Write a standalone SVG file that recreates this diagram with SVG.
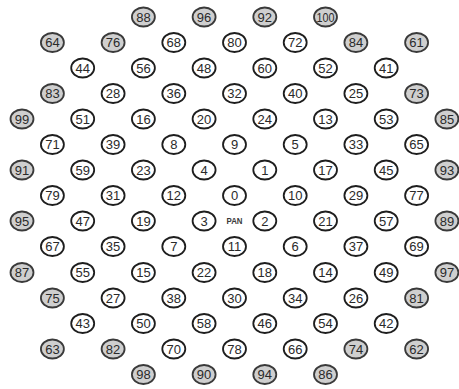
<svg xmlns="http://www.w3.org/2000/svg" width="459" height="389" viewBox="0 0 459 389">
<style>
ellipse{fill:#fff;stroke:#1e1e1e;stroke-width:1.8}
.d ellipse{fill:#cfcfcf;stroke:#3a3a3a}
text{font-family:"Liberation Sans",Arial,sans-serif;font-size:13px;fill:#2a2a2a;text-anchor:middle}
.pan{font-size:8.5px;font-weight:bold;fill:#3a3a3a}
</style>
<rect width="459" height="389" fill="#fff"/>
<g id="nodes">
<!-- row 0 -->
<g id="n88" class="d" transform="translate(143.4,17)"><ellipse rx="11.5" ry="9.5"/><text y="4.6">88</text></g>
<g id="n96" class="d" transform="translate(204.1,17)"><ellipse rx="11.5" ry="9.5"/><text y="4.6">96</text></g>
<g id="n92" class="d" transform="translate(264.8,17)"><ellipse rx="11.5" ry="9.5"/><text y="4.6">92</text></g>
<g id="n100" class="d" transform="translate(325.5,17)"><ellipse rx="11.5" ry="9.5"/><text y="4.6" textLength="18" lengthAdjust="spacingAndGlyphs">100</text></g>
<!-- row 1 -->
<g id="n64" class="d" transform="translate(52.4,42.5)"><ellipse rx="11.5" ry="9.5"/><text y="4.6">64</text></g>
<g id="n76" class="d" transform="translate(113.1,42.5)"><ellipse rx="11.5" ry="9.5"/><text y="4.6">76</text></g>
<g id="n68" transform="translate(173.8,42.5)"><ellipse rx="11.5" ry="9.5"/><text y="4.6">68</text></g>
<g id="n80" transform="translate(234.5,42.5)"><ellipse rx="11.5" ry="9.5"/><text y="4.6">80</text></g>
<g id="n72" transform="translate(295.2,42.5)"><ellipse rx="11.5" ry="9.5"/><text y="4.6">72</text></g>
<g id="n84" class="d" transform="translate(355.9,42.5)"><ellipse rx="11.5" ry="9.5"/><text y="4.6">84</text></g>
<g id="n61" class="d" transform="translate(416.6,42.5)"><ellipse rx="11.5" ry="9.5"/><text y="4.6">61</text></g>
<!-- row 2 -->
<g id="n44" transform="translate(82.7,68)"><ellipse rx="11.5" ry="9.5"/><text y="4.6">44</text></g>
<g id="n56" transform="translate(143.4,68)"><ellipse rx="11.5" ry="9.5"/><text y="4.6">56</text></g>
<g id="n48" transform="translate(204.1,68)"><ellipse rx="11.5" ry="9.5"/><text y="4.6">48</text></g>
<g id="n60" transform="translate(264.8,68)"><ellipse rx="11.5" ry="9.5"/><text y="4.6">60</text></g>
<g id="n52" transform="translate(325.5,68)"><ellipse rx="11.5" ry="9.5"/><text y="4.6">52</text></g>
<g id="n41" transform="translate(386.2,68)"><ellipse rx="11.5" ry="9.5"/><text y="4.6">41</text></g>
<!-- row 3 -->
<g id="n83" class="d" transform="translate(52.4,93.5)"><ellipse rx="11.5" ry="9.5"/><text y="4.6">83</text></g>
<g id="n28" transform="translate(113.1,93.5)"><ellipse rx="11.5" ry="9.5"/><text y="4.6">28</text></g>
<g id="n36" transform="translate(173.8,93.5)"><ellipse rx="11.5" ry="9.5"/><text y="4.6">36</text></g>
<g id="n32" transform="translate(234.5,93.5)"><ellipse rx="11.5" ry="9.5"/><text y="4.6">32</text></g>
<g id="n40" transform="translate(295.2,93.5)"><ellipse rx="11.5" ry="9.5"/><text y="4.6">40</text></g>
<g id="n25" transform="translate(355.9,93.5)"><ellipse rx="11.5" ry="9.5"/><text y="4.6">25</text></g>
<g id="n73" class="d" transform="translate(416.6,93.5)"><ellipse rx="11.5" ry="9.5"/><text y="4.6">73</text></g>
<!-- row 4 -->
<g id="n99" class="d" transform="translate(22,119)"><ellipse rx="11.5" ry="9.5"/><text y="4.6">99</text></g>
<g id="n51" transform="translate(82.7,119)"><ellipse rx="11.5" ry="9.5"/><text y="4.6">51</text></g>
<g id="n16" transform="translate(143.4,119)"><ellipse rx="11.5" ry="9.5"/><text y="4.6">16</text></g>
<g id="n20" transform="translate(204.1,119)"><ellipse rx="11.5" ry="9.5"/><text y="4.6">20</text></g>
<g id="n24" transform="translate(264.8,119)"><ellipse rx="11.5" ry="9.5"/><text y="4.6">24</text></g>
<g id="n13" transform="translate(325.5,119)"><ellipse rx="11.5" ry="9.5"/><text y="4.6">13</text></g>
<g id="n53" transform="translate(386.2,119)"><ellipse rx="11.5" ry="9.5"/><text y="4.6">53</text></g>
<g id="n85" class="d" transform="translate(446.9,119)"><ellipse rx="11.5" ry="9.5"/><text y="4.6">85</text></g>
<!-- row 5 -->
<g id="n71" transform="translate(52.4,144.5)"><ellipse rx="11.5" ry="9.5"/><text y="4.6">71</text></g>
<g id="n39" transform="translate(113.1,144.5)"><ellipse rx="11.5" ry="9.5"/><text y="4.6">39</text></g>
<g id="n8" transform="translate(173.8,144.5)"><ellipse rx="11.5" ry="9.5"/><text y="4.6">8</text></g>
<g id="n9" transform="translate(234.5,144.5)"><ellipse rx="11.5" ry="9.5"/><text y="4.6">9</text></g>
<g id="n5" transform="translate(295.2,144.5)"><ellipse rx="11.5" ry="9.5"/><text y="4.6">5</text></g>
<g id="n33" transform="translate(355.9,144.5)"><ellipse rx="11.5" ry="9.5"/><text y="4.6">33</text></g>
<g id="n65" transform="translate(416.6,144.5)"><ellipse rx="11.5" ry="9.5"/><text y="4.6">65</text></g>
<!-- row 6 -->
<g id="n91" class="d" transform="translate(22,170)"><ellipse rx="11.5" ry="9.5"/><text y="4.6">91</text></g>
<g id="n59" transform="translate(82.7,170)"><ellipse rx="11.5" ry="9.5"/><text y="4.6">59</text></g>
<g id="n23" transform="translate(143.4,170)"><ellipse rx="11.5" ry="9.5"/><text y="4.6">23</text></g>
<g id="n4" transform="translate(204.1,170)"><ellipse rx="11.5" ry="9.5"/><text y="4.6">4</text></g>
<g id="n1" transform="translate(264.8,170)"><ellipse rx="11.5" ry="9.5"/><text y="4.6">1</text></g>
<g id="n17" transform="translate(325.5,170)"><ellipse rx="11.5" ry="9.5"/><text y="4.6">17</text></g>
<g id="n45" transform="translate(386.2,170)"><ellipse rx="11.5" ry="9.5"/><text y="4.6">45</text></g>
<g id="n93" class="d" transform="translate(446.9,170)"><ellipse rx="11.5" ry="9.5"/><text y="4.6">93</text></g>
<!-- row 7 -->
<g id="n79" transform="translate(52.4,195.5)"><ellipse rx="11.5" ry="9.5"/><text y="4.6">79</text></g>
<g id="n31" transform="translate(113.1,195.5)"><ellipse rx="11.5" ry="9.5"/><text y="4.6">31</text></g>
<g id="n12" transform="translate(173.8,195.5)"><ellipse rx="11.5" ry="9.5"/><text y="4.6">12</text></g>
<g id="n0" transform="translate(234.5,195.5)"><ellipse rx="11.5" ry="9.5"/><text y="4.6">0</text></g>
<g id="n10" transform="translate(295.2,195.5)"><ellipse rx="11.5" ry="9.5"/><text y="4.6">10</text></g>
<g id="n29" transform="translate(355.9,195.5)"><ellipse rx="11.5" ry="9.5"/><text y="4.6">29</text></g>
<g id="n77" transform="translate(416.6,195.5)"><ellipse rx="11.5" ry="9.5"/><text y="4.6">77</text></g>
<!-- row 8 -->
<g id="n95" class="d" transform="translate(22,221)"><ellipse rx="11.5" ry="9.5"/><text y="4.6">95</text></g>
<g id="n47" transform="translate(82.7,221)"><ellipse rx="11.5" ry="9.5"/><text y="4.6">47</text></g>
<g id="n19" transform="translate(143.4,221)"><ellipse rx="11.5" ry="9.5"/><text y="4.6">19</text></g>
<g id="n3" transform="translate(204.1,221)"><ellipse rx="11.5" ry="9.5"/><text y="4.6">3</text></g>
<g id="pan" transform="translate(234.5,221)"><text class="pan" y="3" textLength="16" lengthAdjust="spacingAndGlyphs">PAN</text></g>
<g id="n2" transform="translate(264.8,221)"><ellipse rx="11.5" ry="9.5"/><text y="4.6">2</text></g>
<g id="n21" transform="translate(325.5,221)"><ellipse rx="11.5" ry="9.5"/><text y="4.6">21</text></g>
<g id="n57" transform="translate(386.2,221)"><ellipse rx="11.5" ry="9.5"/><text y="4.6">57</text></g>
<g id="n89" class="d" transform="translate(446.9,221)"><ellipse rx="11.5" ry="9.5"/><text y="4.6">89</text></g>
<!-- row 9 -->
<g id="n67" transform="translate(52.4,246.5)"><ellipse rx="11.5" ry="9.5"/><text y="4.6">67</text></g>
<g id="n35" transform="translate(113.1,246.5)"><ellipse rx="11.5" ry="9.5"/><text y="4.6">35</text></g>
<g id="n7" transform="translate(173.8,246.5)"><ellipse rx="11.5" ry="9.5"/><text y="4.6">7</text></g>
<g id="n11" transform="translate(234.5,246.5)"><ellipse rx="11.5" ry="9.5"/><text y="4.6">11</text></g>
<g id="n6" transform="translate(295.2,246.5)"><ellipse rx="11.5" ry="9.5"/><text y="4.6">6</text></g>
<g id="n37" transform="translate(355.9,246.5)"><ellipse rx="11.5" ry="9.5"/><text y="4.6">37</text></g>
<g id="n69" transform="translate(416.6,246.5)"><ellipse rx="11.5" ry="9.5"/><text y="4.6">69</text></g>
<!-- row 10 -->
<g id="n87" class="d" transform="translate(22,272.5)"><ellipse rx="11.5" ry="9.5"/><text y="4.6">87</text></g>
<g id="n55" transform="translate(82.7,272.5)"><ellipse rx="11.5" ry="9.5"/><text y="4.6">55</text></g>
<g id="n15" transform="translate(143.4,272.5)"><ellipse rx="11.5" ry="9.5"/><text y="4.6">15</text></g>
<g id="n22" transform="translate(204.1,272.5)"><ellipse rx="11.5" ry="9.5"/><text y="4.6">22</text></g>
<g id="n18" transform="translate(264.8,272.5)"><ellipse rx="11.5" ry="9.5"/><text y="4.6">18</text></g>
<g id="n14" transform="translate(325.5,272.5)"><ellipse rx="11.5" ry="9.5"/><text y="4.6">14</text></g>
<g id="n49" transform="translate(386.2,272.5)"><ellipse rx="11.5" ry="9.5"/><text y="4.6">49</text></g>
<g id="n97" class="d" transform="translate(446.9,272.5)"><ellipse rx="11.5" ry="9.5"/><text y="4.6">97</text></g>
<!-- row 11 -->
<g id="n75" class="d" transform="translate(52.4,298)"><ellipse rx="11.5" ry="9.5"/><text y="4.6">75</text></g>
<g id="n27" transform="translate(113.1,298)"><ellipse rx="11.5" ry="9.5"/><text y="4.6">27</text></g>
<g id="n38" transform="translate(173.8,298)"><ellipse rx="11.5" ry="9.5"/><text y="4.6">38</text></g>
<g id="n30" transform="translate(234.5,298)"><ellipse rx="11.5" ry="9.5"/><text y="4.6">30</text></g>
<g id="n34" transform="translate(295.2,298)"><ellipse rx="11.5" ry="9.5"/><text y="4.6">34</text></g>
<g id="n26" transform="translate(355.9,298)"><ellipse rx="11.5" ry="9.5"/><text y="4.6">26</text></g>
<g id="n81" class="d" transform="translate(416.6,298)"><ellipse rx="11.5" ry="9.5"/><text y="4.6">81</text></g>
<!-- row 12 -->
<g id="n43" transform="translate(82.7,323.5)"><ellipse rx="11.5" ry="9.5"/><text y="4.6">43</text></g>
<g id="n50" transform="translate(143.4,323.5)"><ellipse rx="11.5" ry="9.5"/><text y="4.6">50</text></g>
<g id="n58" transform="translate(204.1,323.5)"><ellipse rx="11.5" ry="9.5"/><text y="4.6">58</text></g>
<g id="n46" transform="translate(264.8,323.5)"><ellipse rx="11.5" ry="9.5"/><text y="4.6">46</text></g>
<g id="n54" transform="translate(325.5,323.5)"><ellipse rx="11.5" ry="9.5"/><text y="4.6">54</text></g>
<g id="n42" transform="translate(386.2,323.5)"><ellipse rx="11.5" ry="9.5"/><text y="4.6">42</text></g>
<!-- row 13 -->
<g id="n63" class="d" transform="translate(52.4,349)"><ellipse rx="11.5" ry="9.5"/><text y="4.6">63</text></g>
<g id="n82" class="d" transform="translate(113.1,349)"><ellipse rx="11.5" ry="9.5"/><text y="4.6">82</text></g>
<g id="n70" transform="translate(173.8,349)"><ellipse rx="11.5" ry="9.5"/><text y="4.6">70</text></g>
<g id="n78" transform="translate(234.5,349)"><ellipse rx="11.5" ry="9.5"/><text y="4.6">78</text></g>
<g id="n66" transform="translate(295.2,349)"><ellipse rx="11.5" ry="9.5"/><text y="4.6">66</text></g>
<g id="n74" class="d" transform="translate(355.9,349)"><ellipse rx="11.5" ry="9.5"/><text y="4.6">74</text></g>
<g id="n62" class="d" transform="translate(416.6,349)"><ellipse rx="11.5" ry="9.5"/><text y="4.6">62</text></g>
<!-- row 14 -->
<g id="n98" class="d" transform="translate(143.4,374.5)"><ellipse rx="11.5" ry="9.5"/><text y="4.6">98</text></g>
<g id="n90" class="d" transform="translate(204.1,374.5)"><ellipse rx="11.5" ry="9.5"/><text y="4.6">90</text></g>
<g id="n94" class="d" transform="translate(264.8,374.5)"><ellipse rx="11.5" ry="9.5"/><text y="4.6">94</text></g>
<g id="n86" class="d" transform="translate(325.5,374.5)"><ellipse rx="11.5" ry="9.5"/><text y="4.6">86</text></g>
</g>
</svg>
